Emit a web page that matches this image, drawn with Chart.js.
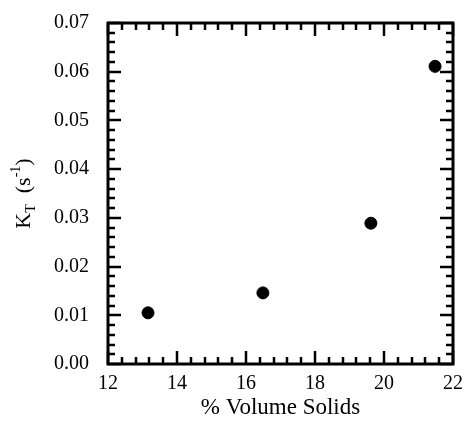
<!DOCTYPE html>
<html>
<head>
<meta charset="utf-8">
<script src="https://cdn.jsdelivr.net/npm/chart.js@4/dist/chart.umd.min.js"></script>
<style>
  html,body{margin:0;padding:0;background:#fff;}
  #wrap{width:465px;height:442px;}
</style>
</head>
<body>
<div id="wrap"><canvas id="c" width="465" height="442"></canvas></div>
<script>
// data
const volSolids = [13.16, 16.49, 19.62, 21.48];
const kT        = [0.0105, 0.0146, 0.0289, 0.0611];

// axis ticks
const xTicks = [12, 14, 16, 18, 20, 22];
const yTicks = [0, 0.01, 0.02, 0.03, 0.04, 0.05, 0.06, 0.07];
const xMinor = 0.4, yMinor = 0.002;

const SERIF = '"Liberation Serif", "Times New Roman", serif';

// inside ticks on all four sides + frame + y title
const frameTicks = {
  id: 'frameTicks',
  afterDraw(chart) {
    const {ctx, chartArea: a, scales: {x, y}} = chart;
    ctx.save();
    ctx.strokeStyle = '#000';
    ctx.lineCap = 'butt';
    ctx.lineWidth = 2.5;
    for (let v = xTicks[0]; v <= xTicks[xTicks.length-1] + 1e-9; v += xMinor) {
      const major = xTicks.some(t => Math.abs(t - v) < 1e-6);
      const L = major ? 13 : 7, px = Math.round(x.getPixelForValue(v));
      ctx.beginPath();
      ctx.moveTo(px, a.bottom); ctx.lineTo(px, a.bottom - L);
      ctx.moveTo(px, a.top); ctx.lineTo(px, a.top + L);
      ctx.stroke();
    }
    for (let v = yTicks[0]; v <= yTicks[yTicks.length-1] + 1e-9; v += yMinor) {
      const major = yTicks.some(t => Math.abs(t - v) < 1e-6);
      const L = major ? 13 : 7, py = Math.round(y.getPixelForValue(v));
      ctx.beginPath();
      ctx.moveTo(a.left, py); ctx.lineTo(a.left + L, py);
      ctx.moveTo(a.right, py); ctx.lineTo(a.right - L, py);
      ctx.stroke();
    }
    ctx.lineWidth = 3;
    ctx.strokeRect(a.left, a.top, a.right - a.left, a.bottom - a.top);

    // y title with subscript / superscript, rotated
    const cy = (a.top + a.bottom) / 2;
    ctx.translate(30, cy);
    ctx.rotate(-Math.PI / 2);
    ctx.fillStyle = '#000';
    ctx.textBaseline = 'alphabetic';
    const big = '22px ' + SERIF, small = '14px ' + SERIF;
    const parts = [
      ['K', big, 0], ['T', small, 5], ['  (s', big, 0], ['-1', small, -10], [')', big, 0]
    ];
    let w = 0;
    parts.forEach(p => { ctx.font = p[1]; w += ctx.measureText(p[0]).width; });
    let cx = -w / 2;
    parts.forEach(p => {
      ctx.font = p[1];
      ctx.fillText(p[0], cx, p[2]);
      cx += ctx.measureText(p[0]).width;
    });
    ctx.restore();
  }
};

new Chart(document.getElementById('c'), {
  type: 'scatter',
  data: {
    datasets: [{
      data: volSolids.map((v, i) => ({x: v, y: kT[i]})),
      backgroundColor: '#000', borderColor: '#000',
      pointRadius: 6, pointHoverRadius: 6
    }]
  },
  options: {
    responsive: false, animation: false,
    layout: {padding: {top: 18, right: 12, bottom: 0, left: 0}},
    plugins: {legend: {display: false}, tooltip: {enabled: false}},
    scales: {
      x: {
        type: 'linear', min: 12, max: 22,
        afterBuildTicks: s => { s.ticks = xTicks.map(v => ({value: v})); },
        afterFit: s => { s.height = 78; },
        grid: {display: false}, border: {display: false},
        ticks: {color: '#000', padding: 0, maxRotation: 0, font: {family: SERIF, size: 20}},
        title: {display: true, text: '% Volume Solids', color: '#000',
                font: {family: SERIF, size: 23}, padding: {top: 0, bottom: 20}}
      },
      y: {
        type: 'linear', min: 0, max: 0.07,
        afterBuildTicks: s => { s.ticks = yTicks.map(v => ({value: v})); },
        afterFit: s => { s.width = 108; },
        grid: {display: false}, border: {display: false},
        ticks: {color: '#000', padding: 11, font: {family: SERIF, size: 20},
                callback: v => v.toFixed(2)}
      }
    }
  },
  plugins: [frameTicks]
});
</script>
</body>
</html>
